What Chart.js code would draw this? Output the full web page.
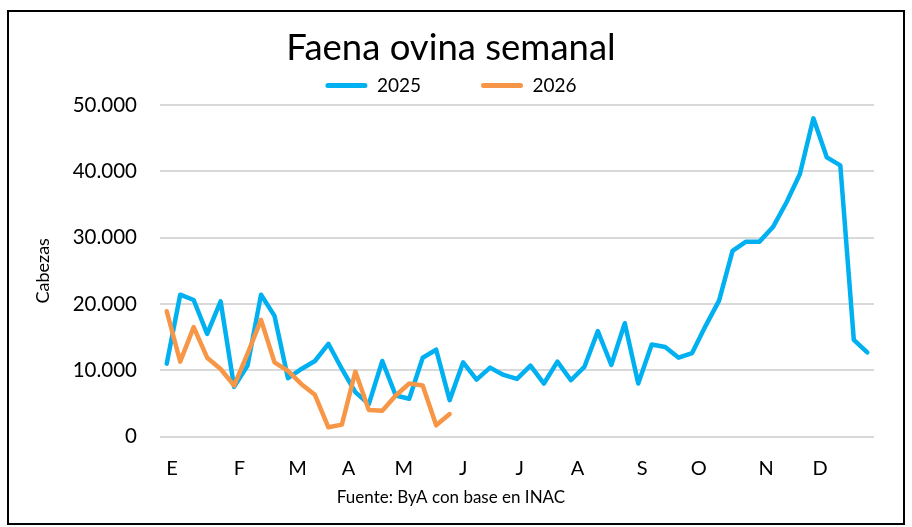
<!DOCTYPE html>
<html>
<head>
<meta charset="utf-8">
<script src="https://cdn.jsdelivr.net/npm/chart.js@4/dist/chart.umd.min.js"></script>
<style>
  html, body { margin: 0; padding: 0; background: #fff; }
  #wrap { position: relative; width: 912px; height: 527px; }
  #frame { position: absolute; left: 7px; top: 10px; width: 894px; height: 511px;
           border: 2px solid #000; pointer-events: none; }
</style>
</head>
<body>
<div id="wrap">
  <canvas id="c" width="912" height="527"></canvas>
  <div id="frame"></div>
</div>
<script>
// ---- data ----
const titleText = 'Faena ovina semanal';
const sourceText = 'Fuente: ByA con base en INAC';
const yAxisTitle = 'Cabezas';
const seriesNames = ['2025', '2026'];
// weekly slaughter (heads), week 1..53
const values2025 = [11000, 21400, 20600, 15500, 20400, 7500, 10700, 21400, 18200, 8800,
  10200, 11400, 14000, 10200, 6700, 4900, 11400, 6200, 5700, 11900,
  13100, 5500, 11200, 8600, 10400, 9300, 8700, 10700, 8000, 11300,
  8500, 10500, 15900, 10800, 17100, 8000, 13900, 13500, 11900, 12600,
  16700, 20500, 28000, 29400, 29400, 31600, 35300, 39600, 48000, 42100,
  40900, 14600, 12700];
const values2026 = [18900, 11300, 16500, 11900, 10200, 7700, 12500, 17600, 11200, 9900,
  7900, 6300, 1400, 1800, 9800, 4000, 3900, 6200, 8000, 7700,
  1700, 3400];
// month labels and the week (0-based) at which each is shown
const monthLabels = ['E', 'F', 'M', 'A', 'M', 'J', 'J', 'A', 'S', 'O', 'N', 'D'];
const monthWeeks = [0.4, 5.4, 9.7, 13.5, 17.6, 22, 26.2, 30.5, 35.3, 39.5, 44.5, 48.5];
const yTickValues = [0, 10000, 20000, 30000, 40000, 50000];

// ---- chart ----
const FONT = 'Lato, "Open Sans", sans-serif';
const fmt = v => String(v).replace(/\B(?=(\d{3})+(?!\d))/g, '.');
const toPts = arr => arr.map((v, i) => ({ x: i, y: v }));

new Chart(document.getElementById('c'), {
  type: 'line',
  data: {
    datasets: [
      { label: seriesNames[0], data: toPts(values2025), borderColor: '#00B0F0', backgroundColor: '#00B0F0',
        borderWidth: 4.5, pointRadius: 0, tension: 0, borderJoinStyle: 'round', borderCapStyle: 'round', order: 1 },
      { label: seriesNames[1], data: toPts(values2026), borderColor: '#F79646', backgroundColor: '#F79646',
        borderWidth: 4.5, pointRadius: 0, tension: 0, borderJoinStyle: 'round', borderCapStyle: 'round', order: 0 }
    ]
  },
  options: {
    responsive: false,
    animation: false,
    layout: { padding: { top: 26, left: 28, right: 38, bottom: 19 } },
    plugins: {
      tooltip: { enabled: false },
      title: { display: true, text: titleText, color: '#000',
        font: { family: FONT, size: 36.5, weight: 'normal' }, padding: { top: 0, bottom: 2 } },
      subtitle: { display: true, position: 'bottom', text: sourceText, color: '#000',
        font: { family: FONT, size: 17, weight: 'normal' }, padding: { top: 5, bottom: 0 } },
      legend: {
        position: 'top', align: 'center',
        labels: {
          color: '#000', font: { family: FONT, size: 19 }, boxWidth: 42, boxHeight: 5,
          padding: 4.25, useBorderRadius: true, borderRadius: 2.5,
          generateLabels(chart) {
            const items = Chart.defaults.plugins.legend.labels.generateLabels(chart)
              .sort((a, b) => a.datasetIndex - b.datasetIndex)
              .map(it => Object.assign({}, it, { lineWidth: 0, fillStyle: it.strokeStyle, borderRadius: 2.5 }));
            items.splice(1, 0, { text: '', fillStyle: 'rgba(0,0,0,0)', strokeStyle: 'rgba(0,0,0,0)',
              lineWidth: 0, hidden: false, datasetIndex: -1, borderRadius: 0 });
            return items;
          }
        }
      }
    },
    scales: {
      x: {
        type: 'linear', min: -0.5, max: 52.5,
        grid: { display: false, drawTicks: false }, border: { display: false },
        afterBuildTicks(scale) { scale.ticks = monthWeeks.map(w => ({ value: w })); },
        afterFit(scale) { scale.height = 46; },
        ticks: { autoSkip: false, maxRotation: 0, minRotation: 0, padding: 20, color: '#000',
          font: { family: FONT, size: 20 },
          callback: (v, i) => monthLabels[i] }
      },
      y: {
        min: 0, max: 50000,
        afterBuildTicks(scale) { scale.ticks = yTickValues.map(v => ({ value: v })); },
        afterFit(scale) { scale.width = 132; },
        grid: { color: '#D9D9D9', lineWidth: 2, drawTicks: false },
        border: { display: false },
        ticks: { padding: 23, color: '#000', font: { family: FONT, size: 20.5 }, callback: v => fmt(v) },
        title: { display: true, text: yAxisTitle, color: '#000', font: { family: FONT, size: 18 }, padding: { top: 4, bottom: 4 } }
      }
    }
  }
});
</script>
</body>
</html>
